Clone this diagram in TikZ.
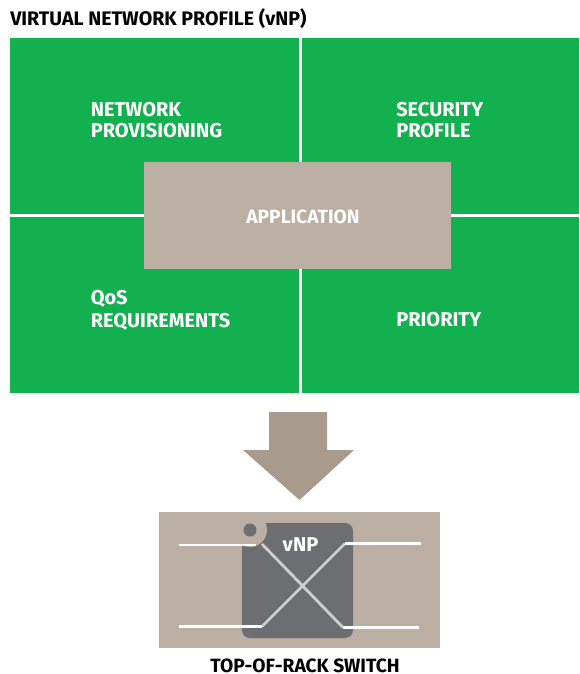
\documentclass[tikz,border=0pt]{standalone}
\usepackage{fontspec}
\setmainfont{Fira Sans}
\usetikzlibrary{arrows}
\definecolor{panelgreen}{HTML}{12B04F}
\definecolor{apptan}{HTML}{BBAEA3}
\definecolor{arrowtan}{HTML}{A89B8C}
\definecolor{chipgrey}{HTML}{6D6E71}
\definecolor{crossgrey}{HTML}{CFCFCF}
\tikzset{
	paneltext/.style={anchor=west, inner sep=0, text=white, align=left, font=\fontsize{15}{15.5}\selectfont\bfseries},
	headtext/.style={inner sep=0, text=black, font=\fontsize{14.7}{15.5}\selectfont\bfseries},
	wire/.style={white, line width=1.9pt},
	crosswire/.style={crossgrey, line width=2.1pt}
}
\begin{document}
\begin{tikzpicture}[x=0.75pt, y=-0.75pt]
	\useasboundingbox (0, 0) rectangle (579, 674);
	\fill[white] (0, 0) rectangle (579, 674);
	\node[headtext, anchor=west] (title) at (10, 19) {VIRTUAL NETWORK PROFILE (vNP)};
	% four panels
	\fill[panelgreen] (10, 38) rectangle (299, 214);
	\fill[panelgreen] (302, 38) rectangle (579, 214);
	\fill[panelgreen] (10, 217) rectangle (299, 393);
	\fill[panelgreen] (302, 217) rectangle (579, 393);
	\node[paneltext] (netprov) at (90.5, 120) {NETWORK\\PROVISIONING};
	\node[paneltext] (security) at (396, 120) {SECURITY\\PROFILE};
	\node[paneltext] (qos) at (90.5, 310.5) {QoS\\[1.5pt]REQUIREMENTS};
	\node[paneltext] (priority) at (396, 320) {PRIORITY};
	\fill[apptan] (144, 162) rectangle (451, 269);
	\node[paneltext, anchor=center, font=\fontsize{14.4}{15.5}\selectfont\bfseries] (application) at (303, 217) {APPLICATION};
	% down arrow
	\fill[arrowtan] (269, 412) -- (327, 412) -- (327, 450) -- (354, 450) -- (299.5, 500) -- (243, 450) -- (269, 450) -- cycle;
	% switch
	\fill[apptan] (159, 512) rectangle (440, 648);
	\fill[chipgrey, rounded corners=6pt] (242, 523) rectangle (353, 638);
	\fill[apptan] (250, 530) circle (17);
	\fill[chipgrey] (250, 530) circle (6.5);
	\node[paneltext, anchor=center] (vnp) at (300.5, 545) {vNP};
	\coordinate (lefttop) at (179, 545);
	\coordinate (lefttopend) at (256, 545);
	\coordinate (leftbot) at (179, 626.5);
	\coordinate (leftbotend) at (262, 626.5);
	\coordinate (righttop) at (421, 543.5);
	\coordinate (righttopend) at (345, 543.5);
	\coordinate (rightbot) at (419, 627.5);
	\coordinate (rightbotend) at (343, 627.5);
	\coordinate (crossstart) at (262, 544);
	\draw[crosswire] (crossstart) -- (rightbotend);
	\draw[crosswire] (leftbotend) -- (righttopend);
	\draw[wire] (lefttop) -- (lefttopend);
	\draw[wire] (leftbot) -- (leftbotend);
	\draw[wire] (righttop) -- (righttopend);
	\draw[wire] (rightbot) -- (rightbotend);
	\node[headtext, font=\fontsize{14.4}{15.5}\selectfont\bfseries] (tor) at (305, 665.5) {TOP-OF-RACK SWITCH};
\end{tikzpicture}
\end{document}
